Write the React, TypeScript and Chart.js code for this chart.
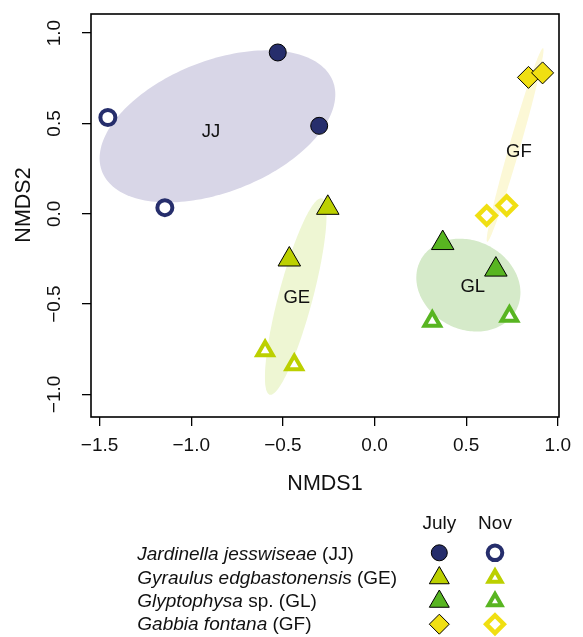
import React, { useEffect, useRef } from 'react';
import { Chart, registerables } from 'chart.js';
import { drawPoint } from 'chart.js/helpers';

Chart.register(...registerables);

const FONT = '"Liberation Sans", Arial, Helvetica, sans-serif';

// ---- axes ----
const X_MIN = -1.547;
const X_MAX = 1.0065;
const Y_MIN = -1.125;
const Y_MAX = 1.106;
const xTickValues = [-1.5, -1, -0.5, 0, 0.5, 1];
const xTickLabels = ['−1.5', '−1.0', '−0.5', '0.0', '0.5', '1.0'];
const yTickValues = [-1, -0.5, 0, 0.5, 1];
const yTickLabels = ['−1.0', '−0.5', '0.0', '0.5', '1.0'];
const xTitle = 'NMDS1';
const yTitle = 'NMDS2';

// ---- site scores ----
const jjJulyX = [-0.528, -0.302];
const jjJulyY = [0.893, 0.487];
const jjNovX = [-1.455, -1.144];
const jjNovY = [0.533, 0.034];
const geJulyX = [-0.255, -0.465];
const geJulyY = [0.033, -0.253];
const geNovX = [-0.597, -0.438];
const geNovY = [-0.758, -0.836];
const glJulyX = [0.372, 0.662];
const glJulyY = [-0.162, -0.309];
const glNovX = [0.315, 0.736];
const glNovY = [-0.595, -0.567];
const gfJulyX = [0.84, 0.917];
const gfJulyY = [0.755, 0.78];
const gfNovX = [0.612, 0.721];
const gfNovY = [-0.01, 0.046];

// ---- group ellipses (centre, sd in x, sd in y, correlation) ----
const groupCodes = ['JJ', 'GE', 'GL', 'GF'];
const ellipseCX = [-0.857, -0.43, 0.512, 0.767];
const ellipseCY = [0.484, -0.458, -0.395, 0.381];
const ellipseSX = [0.643, 0.168, 0.284, 0.155];
const ellipseSY = [0.421, 0.544, 0.257, 0.536];
const ellipseR = [0.42, 0.82, -0.16, 0.98];
const labelX = [-0.892, -0.424, 0.536, 0.788];
const labelY = [0.451, -0.468, -0.404, 0.342];

// ---- legend ----
const speciesNames = ['Jardinella jesswiseae', 'Gyraulus edgbastonensis', 'Glyptophysa', 'Gabbia fontana'];
const speciesSuffix = [' (JJ)', ' (GE)', ' sp. (GL)', ' (GF)'];
const monthLabels = ['July', 'Nov'];

// ---- styles ----
const NAVY = '#262e6c';
const GE_COL = '#bcd000';
const GL_COL = '#58b521';
const GF_COL = '#f0df12';
const groupColors = [NAVY, GE_COL, GL_COL, GF_COL];
const ellipseFills = ['#d8d6e7', '#eef6d3', '#d5eac9', '#fcf8d6'];
const groupStyles = ['circle', 'triangle', 'triangle', 'rectRot'];
const julyRadius = [8.5, 13, 13, 11];
const novRadius = [7.5, 9, 9, 9];
const novWidth = [4, 4, 4, 4.5];
const legJulyRadius = [8, 11.5, 11.5, 10];
const legNovRadius = [7.3, 7.5, 7.5, 8.8];

const pts = (xs: number[], ys: number[]) => xs.map((x, i) => ({ x, y: ys[i] }));

const julyData = [pts(jjJulyX, jjJulyY), pts(geJulyX, geJulyY), pts(glJulyX, glJulyY), pts(gfJulyX, gfJulyY)];
const novData = [pts(jjNovX, jjNovY), pts(geNovX, geNovY), pts(glNovX, glNovY), pts(gfNovX, gfNovY)];

const ellipsePlugin = {
  id: 'ellipses',
  beforeDatasetsDraw(chart: any) {
    const { ctx, scales } = chart;
    const xs = scales.x;
    const ys = scales.y;
    ctx.save();
    for (let g = 0; g < groupCodes.length; g++) {
      const r = ellipseR[g];
      const q = Math.sqrt(1 - r * r);
      ctx.beginPath();
      for (let i = 0; i <= 180; i++) {
        const t = (i / 180) * Math.PI * 2;
        const dx = ellipseCX[g] + ellipseSX[g] * Math.cos(t);
        const dy = ellipseCY[g] + ellipseSY[g] * (r * Math.cos(t) + q * Math.sin(t));
        const px = xs.getPixelForValue(dx);
        const py = ys.getPixelForValue(dy);
        if (i === 0) ctx.moveTo(px, py);
        else ctx.lineTo(px, py);
      }
      ctx.closePath();
      ctx.fillStyle = ellipseFills[g];
      ctx.fill();
    }
    ctx.fillStyle = '#111';
    ctx.font = `18.5px ${FONT}`;
    ctx.textAlign = 'center';
    ctx.textBaseline = 'middle';
    for (let g = 0; g < groupCodes.length; g++) {
      ctx.fillText(groupCodes[g], xs.getPixelForValue(labelX[g]), ys.getPixelForValue(labelY[g]));
    }
    ctx.restore();
  },
};

const framePlugin = {
  id: 'frame',
  afterDraw(chart: any) {
    const { ctx, chartArea, scales } = chart;
    ctx.save();
    ctx.strokeStyle = '#000';
    ctx.lineWidth = 1.6;
    ctx.strokeRect(chartArea.left, chartArea.top, chartArea.right - chartArea.left, chartArea.bottom - chartArea.top);

    // y tick labels (rotated, R style)
    ctx.fillStyle = '#111';
    ctx.font = `19px ${FONT}`;
    ctx.textAlign = 'center';
    ctx.textBaseline = 'middle';
    const ys = scales.y;
    ys.ticks.forEach((t: any) => {
      const idx = yTickValues.indexOf(t.value);
      const py = ys.getPixelForValue(t.value);
      ctx.save();
      ctx.translate(55, py);
      ctx.rotate(-Math.PI / 2);
      ctx.fillText(yTickLabels[idx], 0, 0);
      ctx.restore();
    });
    // y title
    ctx.font = `21.5px ${FONT}`;
    ctx.save();
    ctx.translate(24, 205);
    ctx.rotate(-Math.PI / 2);
    ctx.fillText(yTitle, 0, 0);
    ctx.restore();

    // legend
    ctx.font = `19px ${FONT}`;
    ctx.textBaseline = 'alphabetic';
    ctx.textAlign = 'center';
    const colX = [439.3, 495];
    ctx.fillText(monthLabels[0], colX[0], 529);
    ctx.fillText(monthLabels[1], colX[1], 529);
    const rowBase = [560, 583.5, 606.5, 629.5];
    const rowMark = [552.8, 578, 601.5, 624.2];
    ctx.textAlign = 'left';
    for (let g = 0; g < speciesNames.length; g++) {
      ctx.font = `italic 19px ${FONT}`;
      ctx.fillStyle = '#111';
      ctx.fillText(speciesNames[g], 137.3, rowBase[g]);
      const w = ctx.measureText(speciesNames[g]).width;
      ctx.font = `19px ${FONT}`;
      ctx.fillText(speciesSuffix[g], 137.3 + w, rowBase[g]);

      ctx.fillStyle = groupColors[g];
      ctx.strokeStyle = '#000';
      ctx.lineWidth = 1;
      drawPoint(ctx, { pointStyle: groupStyles[g], radius: legJulyRadius[g], rotation: 0, borderWidth: 1 } as any, colX[0], rowMark[g]);
      ctx.fillStyle = '#fff';
      ctx.strokeStyle = groupColors[g];
      ctx.lineWidth = novWidth[g];
      drawPoint(ctx, { pointStyle: groupStyles[g], radius: legNovRadius[g], rotation: 0, borderWidth: novWidth[g] } as any, colX[1], rowMark[g]);
    }
    ctx.restore();
  },
};

export default function App() {
  const ref = useRef<HTMLCanvasElement>(null);
  useEffect(() => {
    document.body.style.margin = '0';
    const datasets: any[] = [];
    for (let g = 0; g < groupCodes.length; g++) {
      datasets.push({
        label: groupCodes[g] + ' July',
        data: julyData[g],
        pointStyle: groupStyles[g],
        pointRadius: julyRadius[g],
        pointBackgroundColor: groupColors[g],
        pointBorderColor: '#000',
        pointBorderWidth: 1,
      });
      datasets.push({
        label: groupCodes[g] + ' Nov',
        data: novData[g],
        pointStyle: groupStyles[g],
        pointRadius: novRadius[g],
        pointBackgroundColor: '#fff',
        pointBorderColor: groupColors[g],
        pointBorderWidth: novWidth[g],
      });
    }
    const tickFont = { family: FONT, size: 19 };
    const chart = new Chart(ref.current as HTMLCanvasElement, {
      type: 'scatter',
      data: { datasets },
      options: {
        animation: false,
        responsive: false,
        devicePixelRatio: 1,
        events: [],
        layout: { padding: { top: 8, right: 24, bottom: 140, left: 0 } },
        plugins: { legend: { display: false }, tooltip: { enabled: false } },
        scales: {
          x: {
            type: 'linear',
            min: X_MIN,
            max: X_MAX,
            afterBuildTicks: (s: any) => {
              s.ticks = xTickValues.map((v) => ({ value: v }));
            },
            afterFit: (s: any) => {
              s.height = 80;
            },
            grid: { display: true, drawOnChartArea: false, drawTicks: true, tickLength: 9, color: '#000', lineWidth: 1.3 },
            border: { display: false },
            ticks: {
              color: '#111',
              font: tickFont,
              padding: 8,
              maxRotation: 0,
              minRotation: 0,
              autoSkip: false,
              callback: (v: any) => xTickLabels[xTickValues.indexOf(Number(v))],
            },
            title: { display: true, text: xTitle, color: '#111', font: { family: FONT, size: 21.5 }, padding: 0 },
          },
          y: {
            type: 'linear',
            min: Y_MIN,
            max: Y_MAX,
            afterBuildTicks: (s: any) => {
              s.ticks = yTickValues.map((v) => ({ value: v }));
            },
            afterFit: (s: any) => {
              s.width = 91;
            },
            grid: { display: true, drawOnChartArea: false, drawTicks: true, tickLength: 9, color: '#000', lineWidth: 1.3 },
            border: { display: false },
            ticks: { display: false },
          },
        },
      } as any,
      plugins: [ellipsePlugin, framePlugin],
    });
    return () => chart.destroy();
  }, []);
  return (
    <div style={{ width: 583, height: 637, position: 'relative' }}>
      <canvas ref={ref} width={583} height={637} style={{ display: 'block', width: 583, height: 637 }} />
    </div>
  );
}
